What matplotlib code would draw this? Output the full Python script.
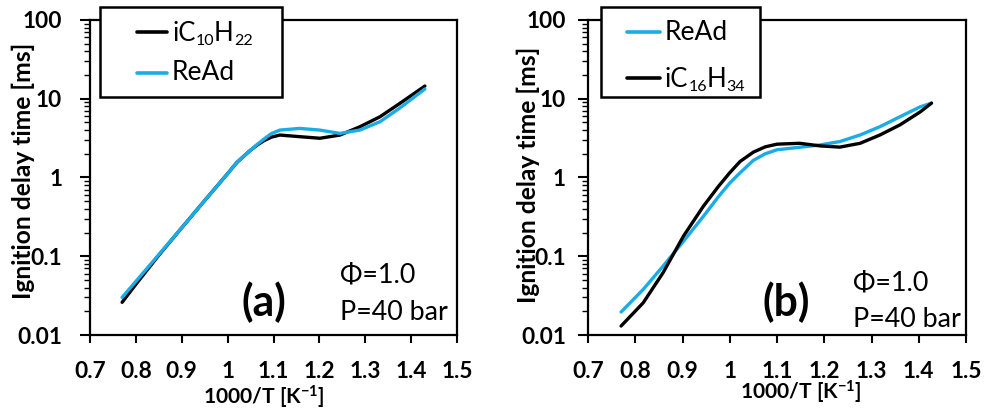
import matplotlib
matplotlib.use("Agg")
import matplotlib.pyplot as plt
from matplotlib.ticker import LogLocator, NullFormatter, FixedLocator
from matplotlib.patches import Rectangle
from matplotlib.lines import Line2D

plt.rcParams['font.family'] = ['Lato', 'DejaVu Sans']
plt.rcParams['mathtext.default'] = 'regular'

# ---- data panel (a) ----
x_a_ic10 = [0.77, 0.80, 0.85, 0.90, 0.95, 1.00, 1.02, 1.049, 1.065, 1.08, 1.095, 1.114, 1.157, 1.201, 1.245, 1.288, 1.332, 1.375, 1.43]
ic10 = [0.026, 0.044, 0.103, 0.23, 0.51, 1.12, 1.55, 2.2, 2.6, 2.95, 3.25, 3.46, 3.3, 3.15, 3.46, 4.4, 5.9, 8.7, 14.5]
x_a_read = [0.77, 0.80, 0.85, 0.90, 0.95, 1.00, 1.02, 1.049, 1.065, 1.08, 1.095, 1.114, 1.157, 1.201, 1.245, 1.288, 1.332, 1.375, 1.43]
read_a = [0.030, 0.048, 0.105, 0.23, 0.51, 1.12, 1.55, 2.2, 2.65, 3.1, 3.6, 4.0, 4.2, 4.0, 3.63, 4.0, 5.1, 7.6, 13.3]

# ---- data panel (b) ----
x_b_ic16 = [0.77, 0.817, 0.859, 0.902, 0.944, 0.976, 1.00, 1.022, 1.05, 1.075, 1.10, 1.148, 1.191, 1.233, 1.276, 1.318, 1.360, 1.403, 1.427]
ic16 = [0.013, 0.0257, 0.062, 0.18, 0.43, 0.77, 1.15, 1.6, 2.1, 2.45, 2.65, 2.72, 2.52, 2.43, 2.72, 3.47, 4.65, 6.8, 8.8]
x_b_read = [0.77, 0.817, 0.859, 0.902, 0.944, 0.976, 1.00, 1.022, 1.05, 1.075, 1.10, 1.148, 1.191, 1.233, 1.276, 1.318, 1.360, 1.403, 1.427]
read_b = [0.0196, 0.038, 0.075, 0.155, 0.32, 0.57, 0.85, 1.15, 1.65, 2.0, 2.25, 2.42, 2.59, 2.86, 3.47, 4.42, 5.9, 7.9, 8.8]

xticks = [0.7, 0.8, 0.9, 1.0, 1.1, 1.2, 1.3, 1.4, 1.5]
xticklabels = ['0.7', '0.8', '0.9', '1', '1.1', '1.2', '1.3', '1.4', '1.5']
yticks = [0.01, 0.1, 1, 10, 100]
yticklabels = ['0.01', '0.1', '1', '10', '100']

BLUE = '#1aace6'
BLACK = '#000000'

fig = plt.figure(figsize=(9.86, 4.11), dpi=100)
W, H = 986, 411
fig.canvas.draw()
R = fig.canvas.get_renderer()


def fx(px):
    return px / W


def fy(py):
    return 1 - py / H


def fit_fs(s, fs, target, weight='normal', dim='w'):
    t = fig.text(0, 0, s, fontsize=fs, fontweight=weight)
    bb = t.get_window_extent(renderer=R)
    t.remove()
    return fs * target / (bb.width if dim == 'w' else bb.height)


TICK_FS = fit_fs('0.01', 17, 45, 'bold')
YLAB_FS = fit_fs('Ignition delay time [ms]', 16, 257, 'bold')
XLAB_FS = fit_fs('1000/T [K$^{-1}$]', 15, 122, 'bold')
LEG_FS = fit_fs('ReAd', 18, 63)
ANN_FS = fit_fs('P=40 bar', 18, 108)
TAG_FS = fit_fs('(a)', 29, 45, 'bold')


def make_ax(left_px, right_px, ypad):
    ax = fig.add_axes([fx(left_px), (H - 335) / H, (right_px - left_px) / W, (335 - 20) / H])
    ax.set_yscale('log')
    ax.set_xlim(0.7, 1.5)
    ax.set_ylim(0.01, 100)
    ax.xaxis.set_major_locator(FixedLocator(xticks))
    ax.set_xticklabels(xticklabels, fontsize=TICK_FS, fontweight='bold')
    ax.yaxis.set_major_locator(FixedLocator(yticks))
    ax.set_yticklabels(yticklabels, fontsize=TICK_FS, fontweight='bold')
    ax.yaxis.set_minor_locator(LogLocator(base=10, subs=range(2, 10)))
    ax.yaxis.set_minor_formatter(NullFormatter())
    ax.tick_params(axis='x', which='major', direction='out', length=6, width=1.5, pad=13)
    ax.tick_params(axis='y', which='major', direction='out', length=7, width=1.5, pad=ypad)
    ax.tick_params(axis='y', which='minor', direction='out', length=4, width=1.0)
    for s in ax.spines.values():
        s.set_linewidth(1.6)
    ax.set_xlabel('1000/T [K$^{-1}$]', fontsize=XLAB_FS, fontweight='bold')
    ax.set_ylabel('Ignition delay time [ms]', fontsize=YLAB_FS, fontweight='bold')
    ax.xaxis.label.set_va('center')
    ax.yaxis.label.set_va('center')
    return ax


def chem_label(x0, yc, parts, fs, target):
    def layout(size):
        texts = []
        x = x0
        base = yc + 0.36 * size * 100 / 72
        for s, sub in parts:
            sz = size * 0.62 if sub else size
            y = base + (0.16 * size * 100 / 72 if sub else 0)
            t = fig.text(fx(x), fy(y), s, fontsize=sz, ha='left', va='baseline', zorder=12)
            x += t.get_window_extent(renderer=R).width
            texts.append(t)
        return texts, x - x0
    texts, w = layout(fs)
    for t in texts:
        t.remove()
    layout(fs * target / w)


def draw_legend(box, handles_x, rows):
    x0, y0, x1, y1 = box
    fig.add_artist(Rectangle((fx(x0), fy(y1)), fx(x1) - fx(x0), fy(y0) - fy(y1),
                             transform=fig.transFigure, facecolor='white',
                             edgecolor='black', linewidth=1.8, zorder=10))
    for label, color, yc in rows:
        fig.add_artist(Line2D([fx(handles_x[0]), fx(handles_x[1])], [fy(yc), fy(yc)],
                              transform=fig.transFigure, color=color, lw=2.6,
                              solid_capstyle='round', zorder=11))
        if isinstance(label, list):
            chem_label(handles_x[1] + 5, yc, label, LEG_FS, 80)
        else:
            fig.text(fx(handles_x[1] + 5), fy(yc), label, fontsize=LEG_FS, ha='left',
                     va='center', zorder=12)


# panel (a)
axa = make_ax(90, 457, 13)
axa.plot(x_a_ic10, ic10, color=BLACK, lw=2.4, solid_capstyle='round', solid_joinstyle='round', zorder=3)
axa.plot(x_a_read, read_a, color=BLUE, lw=2.4, solid_capstyle='round', solid_joinstyle='round', zorder=4)
axa.text(0.68, 0.19, 'Φ=1.0', transform=axa.transAxes, fontsize=ANN_FS, ha='left', va='center')
axa.text(0.68, 0.073, 'P=40 bar', transform=axa.transAxes, fontsize=ANN_FS, ha='left', va='center')
axa.text(0.475, 0.105, '(a)', transform=axa.transAxes, fontsize=TAG_FS, fontweight='bold',
         ha='center', va='center')
axa.xaxis.set_label_coords(0.474, -0.197)
axa.yaxis.set_label_coords(-0.183, 0.52)
draw_legend((100, 7, 282, 97), (137, 167),
            [([('iC', False), ('10', True), ('H', False), ('22', True)], BLACK, 32),
             ('ReAd', BLUE, 73)])

# panel (b)
axb = make_ax(588, 966, 9)
axb.plot(x_b_read, read_b, color=BLUE, lw=2.4, solid_capstyle='round', solid_joinstyle='round', zorder=3)
axb.plot(x_b_ic16, ic16, color=BLACK, lw=2.4, solid_capstyle='round', solid_joinstyle='round', zorder=4)
axb.text(0.70, 0.165, 'Φ=1.0', transform=axb.transAxes, fontsize=ANN_FS, ha='left', va='center')
axb.text(0.70, 0.048, 'P=40 bar', transform=axb.transAxes, fontsize=ANN_FS, ha='left', va='center')
axb.text(0.524, 0.105, '(b)', transform=axb.transAxes, fontsize=TAG_FS, fontweight='bold',
         ha='center', va='center')
axb.xaxis.set_label_coords(0.563, -0.181)
axb.yaxis.set_label_coords(-0.159, 0.508)
draw_legend((601, 7, 760, 97), (627, 660),
            [('ReAd', BLUE, 32),
             ([('iC', False), ('16', True), ('H', False), ('34', True)], BLACK, 78)])

fig.savefig('out.png', dpi=100)
